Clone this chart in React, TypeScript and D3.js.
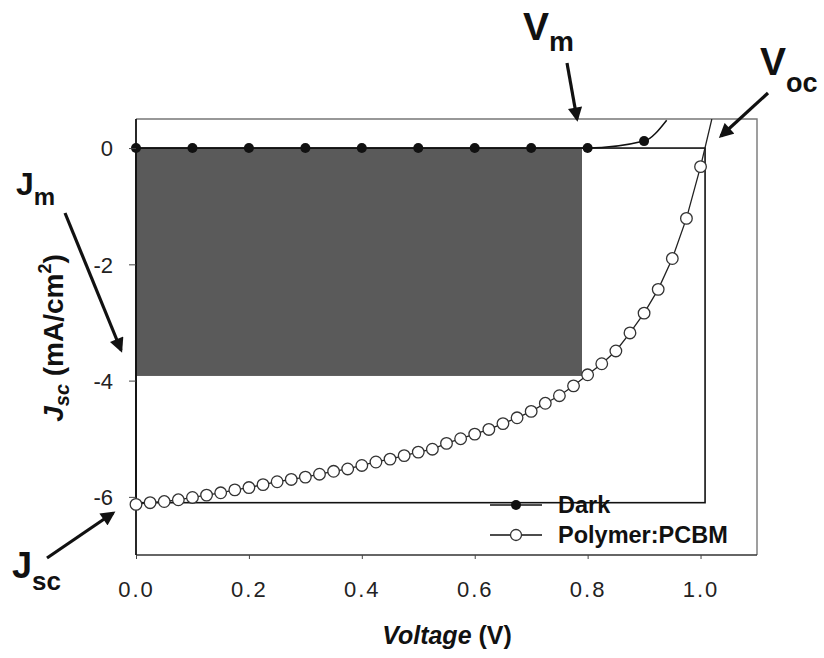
import React, { useEffect, useRef } from "react";
import * as d3 from "d3";

// ---- data ----
const pcbmV = [0, 0.025, 0.05, 0.075, 0.1, 0.125, 0.15, 0.175, 0.2, 0.225, 0.25, 0.275, 0.3, 0.325, 0.35, 0.375, 0.4, 0.425, 0.45, 0.475, 0.5, 0.525, 0.55, 0.575, 0.6, 0.625, 0.65, 0.675, 0.7, 0.725, 0.75, 0.775, 0.8, 0.825, 0.85, 0.875, 0.9, 0.925, 0.95, 0.975, 1.0];
const pcbmJ = [-6.13, -6.1, -6.08, -6.05, -6.01, -5.97, -5.93, -5.88, -5.84, -5.79, -5.74, -5.7, -5.66, -5.61, -5.56, -5.52, -5.46, -5.4, -5.35, -5.29, -5.23, -5.18, -5.08, -5.0, -4.92, -4.84, -4.74, -4.64, -4.53, -4.39, -4.26, -4.09, -3.9, -3.71, -3.49, -3.18, -2.84, -2.43, -1.9, -1.21, -0.32];
const pcbmTail = [[1.02, 0.5]];
const darkV = [0, 0.1, 0.2, 0.3, 0.4, 0.5, 0.6, 0.7, 0.8, 0.9];
const darkJ = [0, 0, 0, 0, 0, 0, 0, 0, 0, 0.12];
const darkTail = [[0.94, 0.48]];
const xTicks = [0, 0.2, 0.4, 0.6, 0.8, 1.0];
const yTicks = [-6, -4, -2, 0];
const Vm = 0.79, Jm = -3.92, Voc = 1.008, Jsc = -6.1;
const seriesNames = ["Dark", "Polymer:PCBM"];

const W = 824, H = 658;
const L = 136, R = 757, T = 119, B = 555;
const FONT = "'Liberation Sans', Arial, Helvetica, sans-serif";

export default function App() {
  const xAxisRef = useRef<SVGGElement>(null);
  const yAxisRef = useRef<SVGGElement>(null);
  const x = d3.scaleLinear().domain([0, 1.1]).range([L, R]);
  const y = d3.scaleLinear().domain([-7, 0.5]).range([B, T]);

  useEffect(() => {
    const gx = d3.select(xAxisRef.current!);
    gx.call(d3.axisBottom(x).tickValues(xTicks).tickFormat(d3.format(".1f")).tickSize(4).tickPadding(22));
    gx.select(".domain").remove();
    gx.selectAll("line").attr("stroke", "#444");
    gx.selectAll("text").attr("font-size", 22).attr("font-family", FONT).attr("fill", "#222").attr("letter-spacing", "2px");
    const gy = d3.select(yAxisRef.current!);
    gy.call(d3.axisLeft(y).tickValues(yTicks).tickFormat((d: any) => String(d)).tickSize(7).tickPadding(16));
    gy.select(".domain").remove();
    gy.selectAll("line").attr("stroke", "#444");
    gy.selectAll("text").attr("font-size", 22).attr("font-family", FONT).attr("fill", "#222").attr("dy", "0.35em");
  }, []);

  const pcbmPts: [number, number][] = pcbmV.map((v, i) => [v, pcbmJ[i]]);
  const darkPts: [number, number][] = darkV.map((v, i) => [v, darkJ[i]]);
  const lineLin = d3.line<number[]>().x(d => x(d[0])).y(d => y(d[1]));
  const lineMono = d3.line<number[]>().x(d => x(d[0])).y(d => y(d[1])).curve(d3.curveMonotoneX);

  const arrow = (x1: number, y1: number, x2: number, y2: number, key: string) => (
    <line key={key} x1={x1} y1={y1} x2={x2} y2={y2} stroke="#111" strokeWidth={3.2} markerEnd="url(#ah)" />
  );

  return (
    <svg width={W} height={H} style={{ position: "absolute", left: 0, top: 0, background: "#fff" }} fontFamily={FONT}>
      <defs>
        <clipPath id="plot"><rect x={L} y={T} width={R - L} height={B - T} /></clipPath>
        <marker id="ah" viewBox="0 0 10 10" refX={8} refY={5} markerWidth={5} markerHeight={4.5} orient="auto" markerUnits="strokeWidth">
          <path d="M0,0 L10,5 L0,10 z" fill="#111" />
        </marker>
      </defs>

      {/* Max power rectangle */}
      <rect x={x(0)} y={y(0)} width={x(Vm) - x(0)} height={y(Jm) - y(0)} fill="#5a5a5a" />

      {/* Voc x Jsc rectangle */}
      <rect x={x(0)} y={y(0)} width={x(Voc) - x(0)} height={y(Jsc) - y(0)} fill="none" stroke="#111" strokeWidth={1.6} />

      {/* frame */}
      <path d={`M${L},${T} H${R} V${B}`} fill="none" stroke="#777" strokeWidth={1.4} />
      <line x1={L} y1={B} x2={R} y2={B} stroke="#333" strokeWidth={1.4} />
      <line x1={L} y1={T} x2={L} y2={B} stroke="#111" strokeWidth={1.8} />

      <g clipPath="url(#plot)">
        <path d={lineMono([...darkPts, ...darkTail]) || ""} fill="none" stroke="#111" strokeWidth={1.5} />
        <path d={lineLin([...pcbmPts, ...pcbmTail]) || ""} fill="none" stroke="#222" strokeWidth={1.3} />
      </g>
      {darkPts.map((p, i) => (
        <circle key={"d" + i} cx={x(p[0])} cy={y(p[1])} r={5} fill="#111" />
      ))}
      {pcbmPts.map((p, i) => (
        <circle key={"p" + i} cx={x(p[0])} cy={y(p[1])} r={5.8} fill="#fff" stroke="#333" strokeWidth={1.3} />
      ))}

      <g ref={xAxisRef} transform={`translate(0,${B})`} />
      <g ref={yAxisRef} transform={`translate(${L},0)`} />

      {/* legend */}
      <g fontSize={23.5} fontWeight="bold" fill="#111">
        <line x1={490} y1={505} x2={542} y2={505} stroke="#111" strokeWidth={1.5} />
        <circle cx={516} cy={505} r={5} fill="#111" />
        <text x={558} y={513}>{seriesNames[0]}</text>
        <line x1={490} y1={535} x2={542} y2={535} stroke="#111" strokeWidth={1.3} />
        <circle cx={516} cy={535} r={5.5} fill="#fff" stroke="#333" strokeWidth={1.3} />
        <text x={558} y={543}>{seriesNames[1]}</text>
      </g>

      {/* axis titles */}
      <text x={447} y={644} textAnchor="middle" fontSize={25} fontWeight="bold" fill="#111">
        <tspan fontStyle="italic">Voltage</tspan> (V)
      </text>
      <text transform="translate(63,338) rotate(-90)" textAnchor="middle" fontSize={28} fontWeight="bold" fill="#111">
        <tspan fontStyle="italic">J</tspan>
        <tspan fontStyle="italic" fontSize={20} dy={6}>sc</tspan>
        <tspan dy={-6}> (mA/cm</tspan>
        <tspan fontSize={18} dy={-12}>2</tspan>
        <tspan dy={12}>)</tspan>
      </text>

      {/* annotations */}
      <g fontWeight="bold" fill="#111">
        <text x={523} y={40} fontSize={39}>V<tspan fontSize={28} dy={11}>m</tspan></text>
        <text x={760} y={75} fontSize={39}>V<tspan fontSize={27} dy={17}>oc</tspan></text>
        <text x={16} y={195} fontSize={32}>J<tspan fontSize={24} dy={10}>m</tspan></text>
        <text x={12} y={578} fontSize={36}>J<tspan fontSize={26} dy={12}>sc</tspan></text>
      </g>
      {arrow(567, 63, 577, 119, "a1")}
      {arrow(768, 93, 721, 136, "a2")}
      {arrow(65, 213, 121, 350, "a3")}
      {arrow(47, 558, 113, 513, "a4")}
    </svg>
  );
}
